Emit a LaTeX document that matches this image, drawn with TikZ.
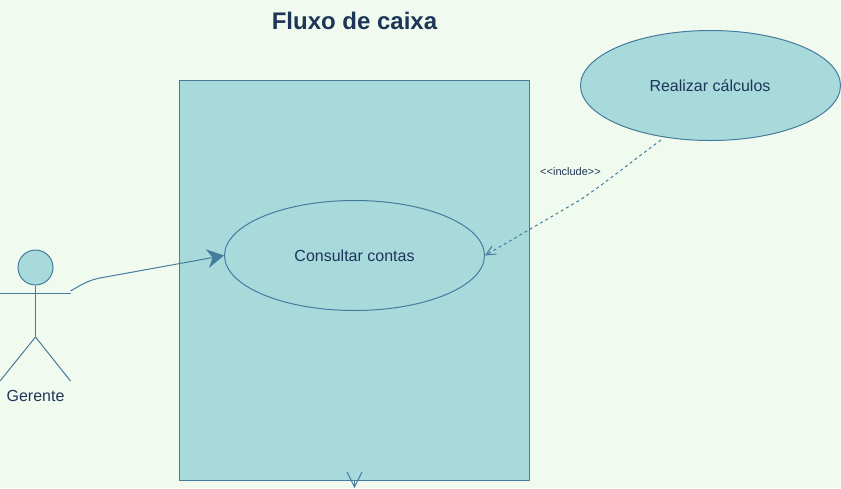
\documentclass[tikz,border=0pt]{standalone}
\usepackage{fontspec}
\setmainfont{Liberation Sans}
\usetikzlibrary{arrows.meta,shapes.geometric}
\definecolor{bgc}{HTML}{F1FAEE}
\definecolor{fillc}{HTML}{A8DADC}
\definecolor{strokec}{HTML}{457B9D}
\definecolor{textc}{HTML}{1D3557}
\tikzset{
  shp/.style={draw=strokec,fill=fillc,line width=1pt,inner sep=0pt},
  usecase/.style={shp,ellipse,minimum width=260pt,minimum height=110pt,text=textc,font=\fontsize{16}{18}\selectfont},
  limb/.style={draw=strokec,line width=1pt},
  conn/.style={draw=strokec,line width=1pt},
  lbl/.style={text=textc,inner sep=0pt}
}
\begin{document}
\begin{tikzpicture}[x=1pt,y=-1pt]
\useasboundingbox[fill=bgc] (0,0) rectangle (841,488);
\node[lbl,font=\bfseries\fontsize{24}{28}\selectfont] (title) at (354.5,21) {Fluxo de caixa};
\node[shp,minimum width=350pt,minimum height=400pt] (sys) at (354.5,280.5) {};
\node[usecase] (consultar) at (354.5,255.5) {Consultar contas};
\node[usecase] (calculos) at (710.5,85.5) {\kern-1pt Realizar cálculos};
% actor
\node[shp,circle,minimum size=35pt] (head) at (35.5,267.5) {};
\coordinate (hip) at (35.5,337);
\coordinate (handl) at (0,293.5);
\coordinate (handr) at (70.5,293.5);
\coordinate (footl) at (0,381);
\coordinate (footr) at (70.5,381);
\draw[limb] (head.south) -- (hip);
\draw[limb] (handl) -- (handr);
\draw[limb] (footl) -- (hip) -- (footr);
\node[lbl,font=\fontsize{16}{18}\selectfont] (gerente) at (35.5,396.4) {Gerente};
% connectors
\coordinate (start) at (70.5,291);
\coordinate (bend) at (100,278);
\draw[conn,-{Stealth[length=17pt,width=19pt,inset=5.5pt,line width=0pt]}] (start) .. controls (84,283) and (90,280) .. (bend) -- (consultar.west);
\coordinate (incstart) at (661,140);
\coordinate (incbend) at (580,200);
\draw[conn,dash pattern=on 3pt off 3pt,-{Straight Barb[length=9.5pt,width=9pt,line width=1pt,sep=0pt]}] (incstart) .. controls (635,159) and (600,187) .. (incbend) -- (consultar.east);
\node[lbl,font=\fontsize{11}{13}\selectfont] (inc) at (570.5,171.3) {<{}<include>{}>};
\coordinate (vtip) at (354.5,488);
\draw[conn,-{Straight Barb[length=15pt,width=15pt,line width=1pt,sep=0pt]}] (sys.south) -- (vtip);
\end{tikzpicture}
\end{document}
